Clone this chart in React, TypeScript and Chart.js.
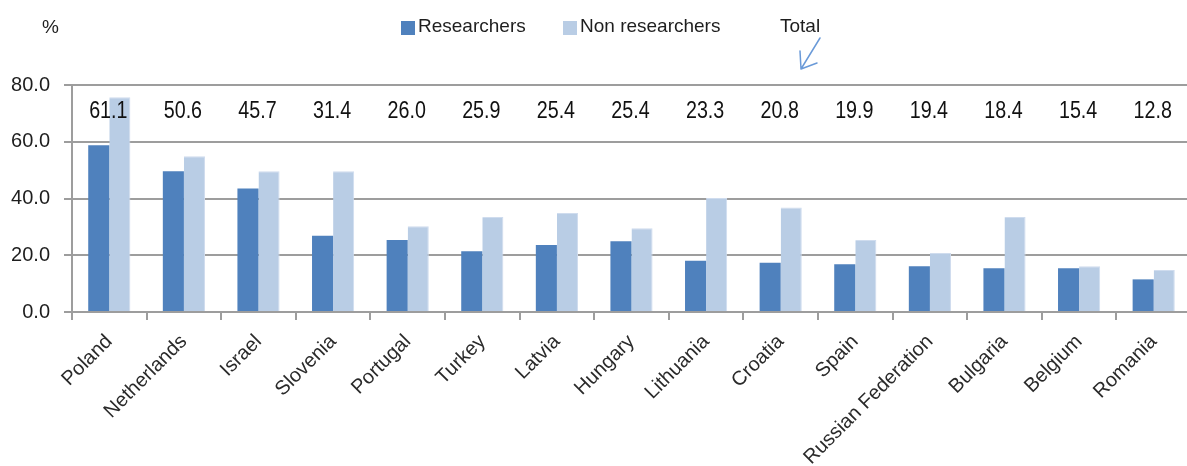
import { useEffect, useRef } from "react";
import { Chart, registerables } from "chart.js";

Chart.register(...registerables);

const CATEGORIES = [
  "Poland", "Netherlands", "Israel", "Slovenia", "Portugal", "Turkey", "Latvia", "Hungary",
  "Lithuania", "Croatia", "Spain", "Russian Federation", "Bulgaria", "Belgium", "Romania",
];
const RESEARCHERS = [58.8, 49.6, 43.5, 26.9, 25.4, 21.4, 23.6, 24.9, 18.1, 17.4, 16.8, 16.1, 15.4, 15.4, 11.5];
const NON_RESEARCHERS = [75.7, 54.9, 49.6, 49.6, 30.2, 33.5, 34.9, 29.5, 40.2, 36.8, 25.4, 20.8, 33.5, 16.1, 14.8];
const TOTALS = [61.1, 50.6, 45.7, 31.4, 26.0, 25.9, 25.4, 25.4, 23.3, 20.8, 19.9, 19.4, 18.4, 15.4, 12.8];
const Y_MIN = 0;
const Y_MAX = 80;
const Y_STEP = 20;
const SERIES_LABELS = ["Researchers", "Non researchers"];
const TOTAL_LABEL = "Total";
const UNIT_LABEL = "%";

const COLOR_R = "#4F81BD";
const COLOR_N = "#B9CDE5";
const GRID = "#9d9d9d";
const TEXT = "#1e1e1e";
const TOTAL_ROW_LEVEL = 70.7;

let narrowOk: boolean | null = null;
function hasNarrow(ctx: CanvasRenderingContext2D) {
  if (narrowOk !== null) return narrowOk;
  ctx.save();
  ctx.font = '24px "Liberation Sans Narrow", monospace';
  const a = ctx.measureText("61.1 abcdefg").width;
  ctx.font = "24px monospace";
  const b = ctx.measureText("61.1 abcdefg").width;
  ctx.restore();
  narrowOk = Math.abs(a - b) > 0.5;
  return narrowOk;
}

const overlay = {
  id: "overlay",
  afterDraw(chart: any) {
    const ctx: CanvasRenderingContext2D = chart.ctx;
    const xs = chart.scales.x;
    const ys = chart.scales.y;
    ctx.save();
    // totals row
    const yPix = ys.getPixelForValue(TOTAL_ROW_LEVEL);
    const narrow = hasNarrow(ctx);
    ctx.fillStyle = "#111";
    ctx.textAlign = "center";
    ctx.textBaseline = "middle";
    TOTALS.forEach((v, i) => {
      const xp = xs.getPixelForValue(i) - 1;
      if (narrow) {
        ctx.font = '24px "Liberation Sans Narrow"';
        ctx.fillText(v.toFixed(1), xp, yPix);
      } else {
        ctx.save();
        ctx.translate(xp, yPix);
        ctx.scale(0.82, 1);
        ctx.font = '24px "Liberation Sans"';
        ctx.fillText(v.toFixed(1), 0, 0);
        ctx.restore();
      }
    });

    // unit label
    ctx.font = '19px "Liberation Sans"';
    ctx.fillStyle = TEXT;
    ctx.textAlign = "left";
    ctx.textBaseline = "middle";
    ctx.fillText(UNIT_LABEL, 42, 28);

    // legend
    const ly = 27;
    ctx.fillStyle = COLOR_R;
    ctx.fillRect(401, 21, 14, 14);
    ctx.fillStyle = TEXT;
    ctx.fillText(SERIES_LABELS[0], 418, ly);
    ctx.fillStyle = COLOR_N;
    ctx.fillRect(563, 21, 14, 14);
    ctx.fillStyle = TEXT;
    ctx.fillText(SERIES_LABELS[1], 580, ly);
    ctx.fillText(TOTAL_LABEL, 780, ly);

    // arrow
    ctx.strokeStyle = "#6a9ad8";
    ctx.lineWidth = 1.5;
    ctx.lineCap = "round";
    ctx.beginPath();
    ctx.moveTo(820, 38);
    ctx.lineTo(801, 69);
    ctx.moveTo(801, 69);
    ctx.lineTo(800, 51);
    ctx.moveTo(801, 69);
    ctx.lineTo(817, 63);
    ctx.stroke();
    ctx.restore();
  },
};

export default function App() {
  const ref = useRef<HTMLCanvasElement | null>(null);
  useEffect(() => {
    if (!ref.current) return;
    const chart = new Chart(ref.current, {
      type: "bar",
      data: {
        labels: CATEGORIES,
        datasets: [
          {
            label: SERIES_LABELS[0],
            data: RESEARCHERS,
            backgroundColor: COLOR_R,
            borderWidth: 0,
            categoryPercentage: 0.565,
            barPercentage: 1,
          },
          {
            label: SERIES_LABELS[1],
            data: NON_RESEARCHERS,
            backgroundColor: COLOR_N,
            borderColor: "#cfdcee",
            borderWidth: { left: 0, right: 1, top: 1, bottom: 0 },
            categoryPercentage: 0.565,
            barPercentage: 1,
          },
        ],
      },
      options: {
        responsive: false,
        animation: false,
        events: [],
        layout: { padding: { top: 85, left: 0, right: 1, bottom: 0 } },
        plugins: {
          legend: { display: false },
          tooltip: { enabled: false },
          title: { display: false },
        },
        scales: {
          x: {
            offset: true,
            grid: {
              offset: true,
              drawOnChartArea: false,
              drawTicks: true,
              tickLength: 8,
              color: GRID,
              lineWidth: 2,
            },
            border: { display: true, color: GRID, width: 2 },
            ticks: {
              autoSkip: false,
              minRotation: 45,
              maxRotation: 45,
              padding: 10,
              color: "#2a2a2a",
              font: { family: '"Liberation Sans", Arial, sans-serif', size: 20 },
            },
            afterFit: (s: any) => {
              s.height = 154;
            },
          },
          y: {
            min: Y_MIN,
            max: Y_MAX,
            ticks: {
              stepSize: Y_STEP,
              padding: 14,
              color: TEXT,
              font: { family: '"Liberation Sans", Arial, sans-serif', size: 20 },
              callback: (v: any) => Number(v).toFixed(1),
            },
            grid: {
              color: GRID,
              lineWidth: 2,
              drawTicks: true,
              tickLength: 8,
            },
            border: { display: true, color: GRID, width: 2 },
            afterFit: (s: any) => {
              s.width = 72;
            },
          },
        },
      },
      plugins: [overlay],
    });
    return () => chart.destroy();
  }, []);
  return (
    <div
      style={{
        position: "fixed",
        left: 0,
        top: 0,
        width: 1187,
        height: 466,
        overflow: "hidden",
        background: "#fff",
      }}
    >
      <canvas ref={ref} width={1192} height={466} style={{ display: "block" }} />
    </div>
  );
}
